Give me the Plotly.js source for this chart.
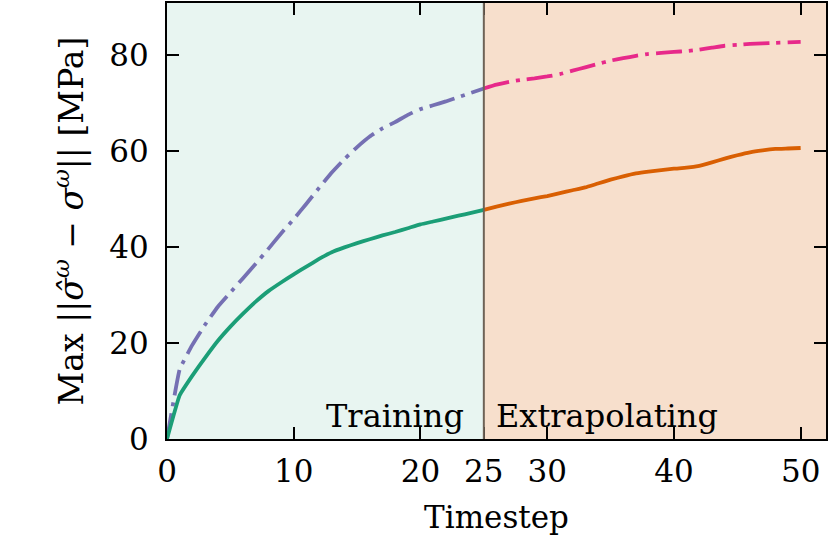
<!DOCTYPE html>
<html>
<head>
<meta charset="utf-8">
<script src="https://cdn.plot.ly/plotly-3.0.1.min.js"></script>
<style>
  html, body { margin: 0; padding: 0; background: #fff; }
  #plot { width: 829px; height: 541px; }
</style>
</head>
<body>
<div id="plot"></div>
<script>
// timesteps 0..25 are the training window, 25..50 the extrapolation
var trainSteps = [0, 1, 2, 3, 4, 5, 6, 7, 8, 9, 10, 11, 12, 13, 14, 15, 16, 17, 18, 19, 20, 21, 22, 23, 24, 25];
var extraSteps = [25, 26, 27, 28, 29, 30, 31, 32, 33, 34, 35, 36, 37, 38, 39, 40, 41, 42, 43, 44, 45, 46, 47, 48, 49, 50];

var trainSolid = [0, 9.1, 13.2, 16.9, 20.4, 23.4, 26.1, 28.6, 30.8, 32.6, 34.3, 35.9, 37.5,
                  38.9, 39.9, 40.8, 41.6, 42.4, 43.1, 43.9, 44.7, 45.3, 45.9, 46.5, 47.1, 47.7];
var trainDash = [0, 14.5, 19.6, 23.8, 27.5, 30.5, 33.5, 36.5, 39.6, 42.8, 45.8, 49.0, 52.3,
                 55.5, 58.3, 60.8, 63.0, 64.7, 66.0, 67.5, 68.7, 69.5, 70.3, 71.2, 72.1, 73.0];
var extraSolid = [47.7, 48.4, 49.0, 49.6, 50.1, 50.6, 51.2, 51.8, 52.4, 53.2, 54.0, 54.7, 55.3,
                  55.7, 56.0, 56.3, 56.5, 56.9, 57.6, 58.4, 59.1, 59.7, 60.1, 60.4, 60.5, 60.6];
var extraDash = [73.0, 73.8, 74.4, 74.8, 75.1, 75.5, 76.0, 76.7, 77.4, 78.1, 78.8, 79.3, 79.8,
                 80.2, 80.4, 80.6, 80.8, 81.1, 81.5, 81.9, 82.1, 82.3, 82.4, 82.5, 82.6, 82.7];

var xTicks = [0, 10, 20, 25, 30, 40, 50];
var yTicks = [0, 20, 40, 60, 80];
var splitAt = 25;

var dashDot = '26px,7px,4px,7px';

var traces = [
  {x: trainSteps, y: trainDash, mode: 'lines', line: {color: '#7570b3', width: 3.8, dash: dashDot, shape: 'spline', smoothing: 0.3}},
  {x: trainSteps, y: trainSolid, mode: 'lines', line: {color: '#1b9e77', width: 3.8, shape: 'spline', smoothing: 0.3}},
  {x: extraSteps, y: extraDash, mode: 'lines', line: {color: '#e7298a', width: 3.8, dash: dashDot, shape: 'spline', smoothing: 0.3}},
  {x: extraSteps, y: extraSolid, mode: 'lines', line: {color: '#d95f02', width: 3.8, shape: 'spline', smoothing: 0.3}}
];

var font = {family: 'DejaVu Serif', size: 31, color: '#000'};

var layout = {
  width: 829,
  height: 541,
  margin: {l: 167, r: 3, t: 3, b: 102},
  paper_bgcolor: '#fff',
  plot_bgcolor: '#fff',
  showlegend: false,
  hovermode: false,
  font: font,
  xaxis: {
    range: [0, 52],
    tickvals: xTicks,
    ticktext: xTicks.map(String),
    ticks: 'inside', ticklen: 12, tickwidth: 2, tickcolor: '#000',
    showline: true, linecolor: '#000', linewidth: 2, mirror: 'allticks',
    showgrid: false, zeroline: false,
    ticklabelstandoff: 4,
    tickfont: font,
    title: {text: 'Timestep', font: font, standoff: 18}
  },
  yaxis: {
    range: [0, 90.8],
    tickvals: yTicks,
    ticks: 'inside', ticklen: 12, tickwidth: 2, tickcolor: '#000',
    showline: true, linecolor: '#000', linewidth: 2, mirror: 'allticks',
    showgrid: false, zeroline: false,
    ticklabelstandoff: 10,
    tickfont: font,
    title: {text: 'Max ||<i>σ̂</i><sup><i>ω</i></sup> − <i>σ</i><sup><i>ω</i></sup>|| [MPa]',
            font: {family: 'DejaVu Serif', size: 33, color: '#000'}, standoff: 16}
  },
  shapes: [
    {type: 'rect', xref: 'x', yref: 'paper', x0: 0, x1: splitAt, y0: 0, y1: 1,
     fillcolor: '#e8f5f1', line: {width: 0}, layer: 'below'},
    {type: 'rect', xref: 'x', yref: 'paper', x0: splitAt, x1: 52, y0: 0, y1: 1,
     fillcolor: '#f7dfcc', line: {width: 0}, layer: 'below'},
    {type: 'line', xref: 'x', yref: 'paper', x0: splitAt, x1: splitAt, y0: 0, y1: 1,
     line: {color: '#6e6256', width: 2}}
  ],
  annotations: [
    {text: 'Training', xref: 'x', yref: 'y', x: splitAt, y: 0, xanchor: 'right', yanchor: 'bottom',
     xshift: -18, yshift: 2, showarrow: false, font: {family: 'DejaVu Serif', size: 32, color: '#000'}},
    {text: 'Extrapolating', xref: 'x', yref: 'y', x: splitAt, y: 0, xanchor: 'left', yanchor: 'bottom',
     xshift: 10, yshift: 2, showarrow: false, font: {family: 'DejaVu Serif', size: 32, color: '#000'}}
  ]
};

Plotly.newPlot('plot', traces, layout, {displayModeBar: false, staticPlot: true});
</script>
</body>
</html>
